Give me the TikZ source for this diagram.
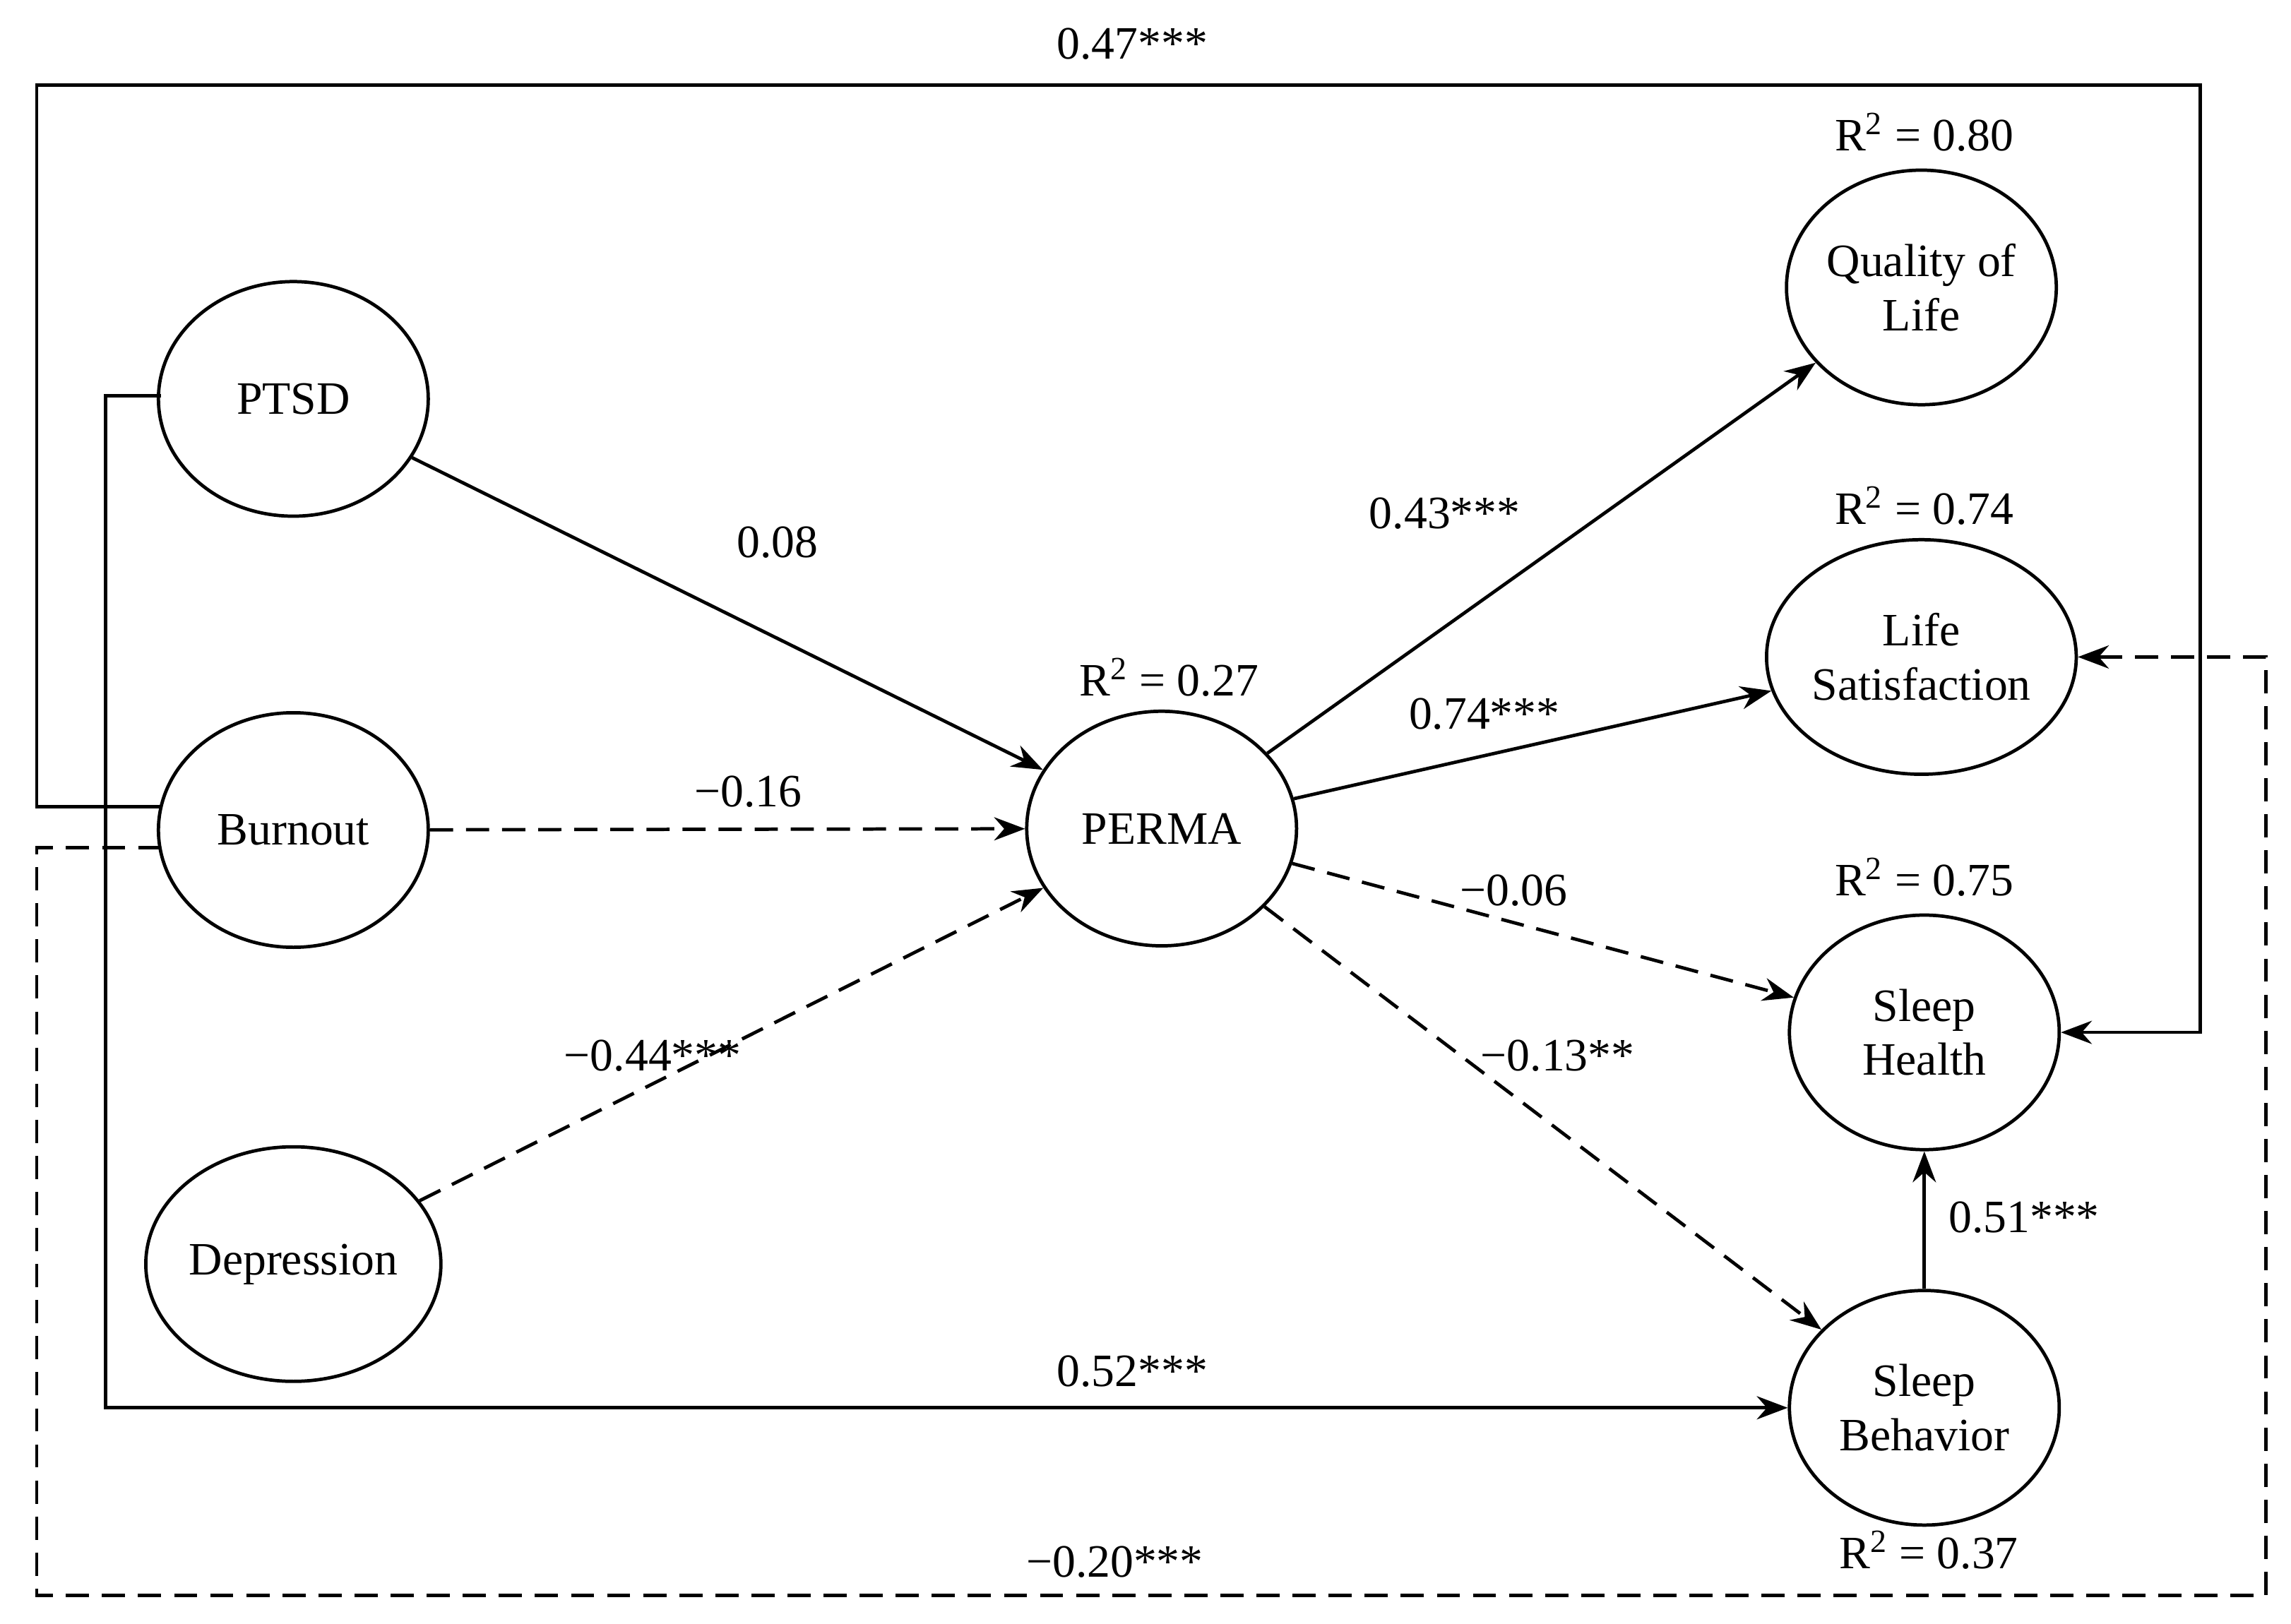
\documentclass[tikz,border=0pt]{standalone}
\usepackage{fontspec}
\setmainfont{Liberation Serif}
\usetikzlibrary{shapes.geometric,arrows.meta}
\begin{document}
\begin{tikzpicture}[x=0.02cm,y=-0.02cm,
  lv/.style={ellipse,draw,line width=1.3pt,minimum width=3.68cm,minimum height=3.2cm,inner sep=0pt,align=center,font=\fontsize{18}{21}\selectfont},
  lab/.style={font=\fontsize{18}{21}\selectfont,inner sep=1pt},
  ar/.style={line width=1.3pt,-{Stealth[length=12pt,width=9pt]}},
  dsh/.style={dash pattern=on 9pt off 5pt}]
\useasboundingbox (0,0) rectangle (1562,1107);
\node[lv] (ptsd) at (200,272) {PTSD};
\node[lv] (burn) at (200,566) {Burnout};
\node[lv] (dep) at (200,862) {Depression};
\node[lv] (perma) at (792,565) {PERMA};
\node[lv] (qol) at (1310,196) {Quality of\\Life};
\node[lv] (ls) at (1310,448) {Life\\Satisfaction};
\node[lv] (sh) at (1312,704) {Sleep\\Health};
\node[lv] (sb) at (1312,960) {Sleep\\Behavior};
\draw[ar] (ptsd) -- (perma);
\node[lab] (l1) at (530,370) {0.08};
\draw[ar,dsh] (burn) -- (perma);
\node[lab] (l2) at (510,540) {−0.16};
\draw[ar,dsh] (dep) -- (perma);
\node[lab] (l3) at (445,720) {−0.44***};
\draw[ar] (perma) -- (qol);
\node[lab] (l4) at (985,350) {0.43***};
\draw[ar] (perma) -- (ls);
\node[lab] (l5) at (1012,487) {0.74***};
\draw[ar,dsh] (perma) -- (sh);
\node[lab] (l6) at (1032,607) {−0.06};
\draw[ar,dsh] (perma) -- (sb);
\node[lab] (l7) at (1062,720) {−0.13**};
\draw[ar] (sb) -- (sh);
\node[lab] (l8) at (1380,830) {0.51***};
\coordinate (b1) at (110,550);
\coordinate (b2) at (110,578);
\coordinate (p1) at (110,270);
\draw[ar] (b1) -- (25,550) -- (25,58) -- (1500,58) -- (1500,704) -- (sh.east);
\node[lab] (l9) at (772,30) {0.47***};
\draw[ar] (p1) -- (72,270) -- (72,960) -- (sb.west);
\node[lab] (l10) at (772,935) {0.52***};
\draw[ar,dsh] (b2) -- (25,578) -- (25,1088) -- (1545,1088) -- (1545,448) -- (ls.east);
\node[lab] (l11) at (760,1065) {−0.20***};
\node[lab] (r1) at (1312,90) {R\textsuperscript{2} = 0.80};
\node[lab] (r2) at (1312,345) {R\textsuperscript{2} = 0.74};
\node[lab] (r3) at (797,462) {R\textsuperscript{2} = 0.27};
\node[lab] (r4) at (1312,598) {R\textsuperscript{2} = 0.75};
\node[lab] (r5) at (1315,1057) {R\textsuperscript{2} = 0.37};
\end{tikzpicture}
\end{document}
